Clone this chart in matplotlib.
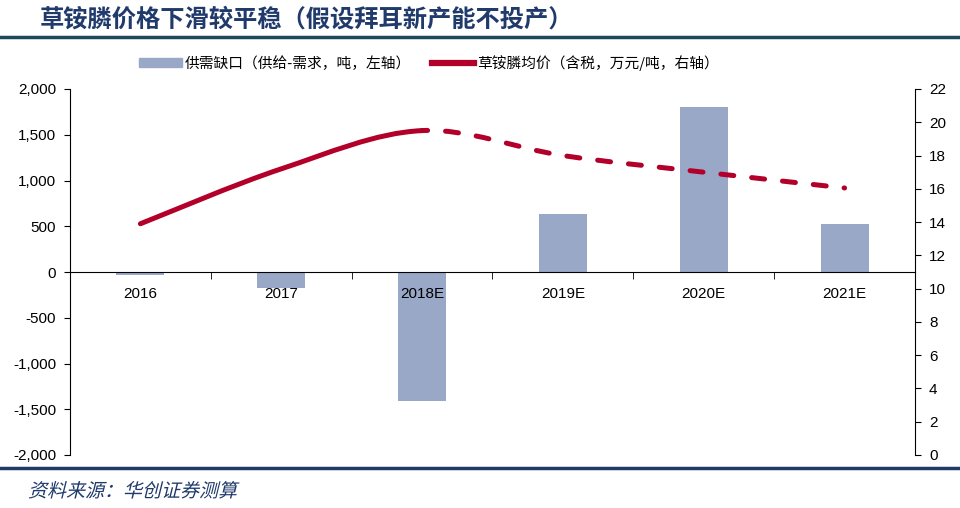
import numpy as np
import matplotlib
matplotlib.use('Agg')
import matplotlib.pyplot as plt
from matplotlib.path import Path
from matplotlib.patches import PathPatch, Patch
from matplotlib.lines import Line2D
from matplotlib.textpath import TextPath
from matplotlib.font_manager import FontProperties
from matplotlib.transforms import Affine2D, IdentityTransform
from matplotlib.ticker import FuncFormatter

plt.rcParams['font.family'] = ['Liberation Sans', 'Noto Sans CJK SC', 'DejaVu Sans']

years = ['2016', '2017', '2018E', '2019E', '2020E', '2021E']
gap = [-30, -175, -1410, 630, 1800, 525]          # 供需缺口, 吨
price = [13.9, 17.2, 19.5, 18.0, 17.0, 16.05]     # 草铵膦均价, 万元/吨
n_actual = 3  # solid up to 2018E

bar_color = '#9aa8c8'
line_color = '#b3002a'
navy = '#1f3a6b'

fig = plt.figure(figsize=(9.6, 5.08), dpi=100)
ax = fig.add_axes([70 / 960, 53 / 508, 845 / 960, 366 / 508])
ax2 = ax.twinx()

x = np.arange(len(years))
ax.bar(x, gap, width=0.34, color=bar_color, zorder=1)
ax.set_axisbelow(False)
ax.set_xlim(-0.5, len(years) - 0.5)
ax.set_ylim(-2000, 2000)
ax.set_yticks(np.arange(-2000, 2001, 500))
ax.yaxis.set_major_formatter(FuncFormatter(lambda v, p: f'{int(v):,}'))
ax.set_xticks(x)
ax.set_xticklabels(years)
ax.set_xticks(np.arange(-0.5, len(years)), minor=True)
ax.tick_params(axis='x', which='major', length=0, labelsize=11, pad=11)
ax.tick_params(axis='x', which='minor', length=5, direction='out')
ax.tick_params(axis='y', labelsize=11, length=4, direction='out', pad=6)

ax.spines['top'].set_visible(False)
ax.spines['right'].set_visible(False)
ax.spines['bottom'].set_position(('data', 0))
ax2.spines['top'].set_visible(False)
ax2.spines['left'].set_visible(False)
ax2.spines['bottom'].set_visible(False)

ax2.set_ylim(0, 22)
ax2.set_yticks(np.arange(0, 23, 2))
ax2.tick_params(axis='y', labelsize=11, length=4, direction='out', pad=6)


def bezier_segments(xs, ys):
    # Catmull-Rom style bezier pieces, like an Excel smoothed line
    pts = list(zip(xs, ys))
    segs = []
    for i in range(len(pts) - 1):
        p0 = pts[i - 1] if i > 0 else pts[i]
        p1, p2 = pts[i], pts[i + 1]
        p3 = pts[i + 2] if i + 2 < len(pts) else pts[i + 1]
        c1 = (p1[0] + (p2[0] - p0[0]) / 6, p1[1] + (p2[1] - p0[1]) / 6)
        c2 = (p2[0] - (p3[0] - p1[0]) / 6, p2[1] - (p3[1] - p1[1]) / 6)
        segs.append((p1, c1, c2, p2))
    return segs


def make_path(segs):
    verts = [segs[0][0]]
    codes = [Path.MOVETO]
    for s in segs:
        verts += [s[1], s[2], s[3]]
        codes += [Path.CURVE4] * 3
    return Path(verts, codes)


segs = bezier_segments(x, price)
ax2.add_patch(PathPatch(make_path(segs[:n_actual - 1]), fill=False,
                        edgecolor=line_color, lw=3.6, capstyle='round', zorder=3))
ax2.add_patch(PathPatch(make_path(segs[n_actual - 1:]), fill=False,
                        edgecolor=line_color, lw=3.6, linestyle=(1.5, (2.6, 3.6)),
                        capstyle='round', zorder=3))

# legend
handles = [Patch(color=bar_color), Line2D([0], [0], color=line_color, lw=4.5)]
labels = ['供需缺口（供给-需求，吨，左轴）', '草铵膦均价（含税，万元/吨，右轴）']
fig.legend(handles, labels, loc='center', bbox_to_anchor=(0.447, 0.876), ncol=2,
           frameon=False, handlelength=2.9, handleheight=0.55,
           handletextpad=0.2, columnspacing=1.4,
           prop={'family': ['Noto Sans CJK SC'], 'size': 10.6})

# title and decorations
fig.text(40 / 960, 1 - 20 / 508, '草铵膦价格下滑较平稳（假设拜耳新产能不投产）',
         fontsize=17.5, fontweight='bold', color=navy, va='center',
         family=['Noto Sans CJK SC'])
fig.add_artist(Line2D([0, 1], [1 - 37 / 508] * 2, color='#1d4a5a', lw=2.5))
fig.add_artist(Line2D([0, 1], [1 - 468 / 508] * 2, color=navy, lw=2.5))

# slanted source note
tp = TextPath((0, 0), '资料来源：华创证券测算', size=19,
              prop=FontProperties(family='Noto Sans CJK SC'))
src = PathPatch(tp, facecolor=navy, edgecolor='none',
                transform=Affine2D().skew_deg(14, 0).translate(28, 508 - 497) + IdentityTransform())
fig.add_artist(src)

plt.savefig('out.png', dpi=100)
plt.close()
